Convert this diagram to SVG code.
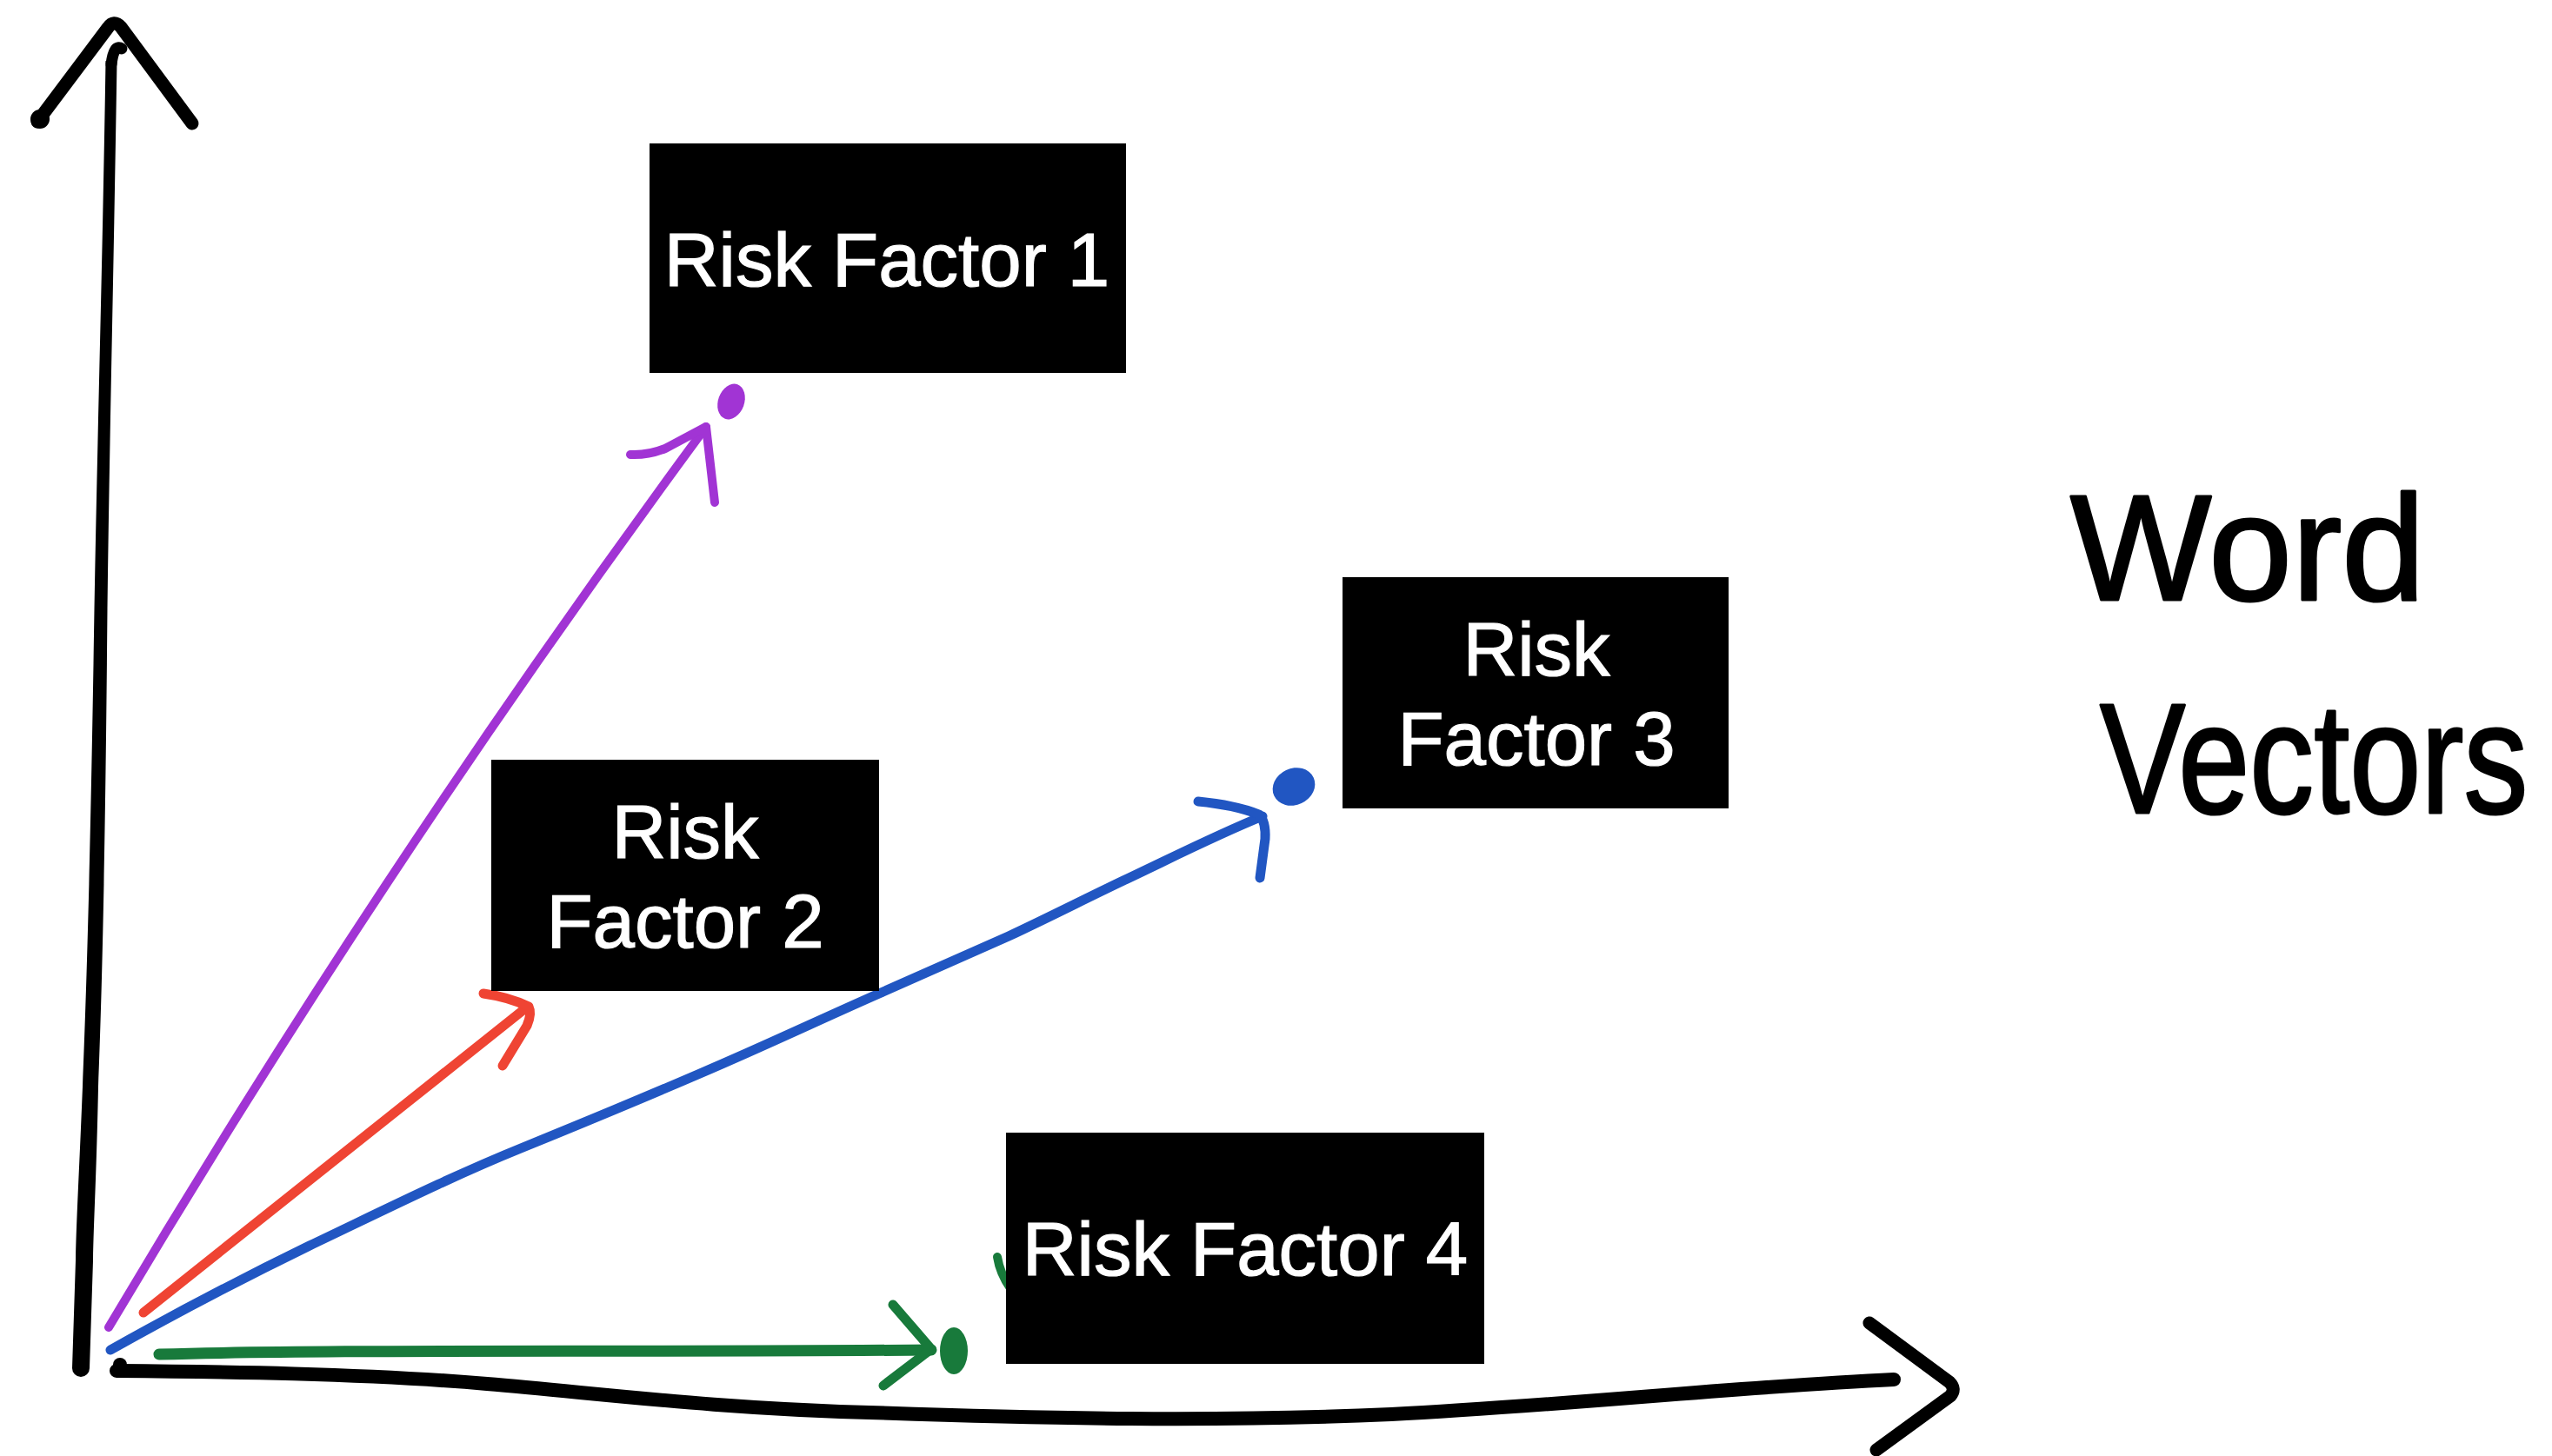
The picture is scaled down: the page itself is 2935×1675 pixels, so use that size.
<svg xmlns="http://www.w3.org/2000/svg" width="2935" height="1675" viewBox="0 0 2935 1675">
  <style>
    .ink { fill: none; stroke-linecap: round; stroke-linejoin: round; }
    .axis { stroke: #000; }
    .purple { stroke: #a134d4; }
    .red { stroke: #ef4433; }
    .blue { stroke: #2156c2; }
    .green { stroke: #187a3b; }
    .box { fill: #000; }
    .label { fill: #fff; stroke: #fff; stroke-width: 1.2px; font-family: "Liberation Sans", Arial, Helvetica, sans-serif; font-size: 87px; text-anchor: middle; }
    .hand { fill: #000; stroke: #000; stroke-width: 3px; stroke-linejoin: round; font-family: "Liberation Sans", Arial, sans-serif; }
  </style>

  <rect width="2935" height="1675" fill="#fff"/>

  <!-- hand-drawn axes -->
  <g id="axes">
    <!-- vertical axis: a tapered marker stroke, wider toward the bottom -->
    <path class="ink axis" stroke-width="13" d="M140,56 Q131,50 128,74"/>
    <path fill="#000" d="M121.5,70 C118,300 112,500 108.5,700 C104,1000 99,1150 95,1250 C91,1350 88,1400 87,1450 L83,1574 A10,10 0 0 0 103,1574 L107,1450 C108,1400 111,1350 113,1250 C117,1150 121,1000 123.5,700 C126,500 131,300 134.5,70 Z"/>
    <path class="ink axis" stroke-width="15" d="M43,140 L124,32 Q131,22 139,31 L221,142"/>
    <circle cx="46" cy="137" r="11" fill="#000"/>
    <!-- horizontal axis -->
    <path class="ink axis" stroke-width="16" d="M134,1577 C250,1578 420,1580 560,1592 C700,1604 820,1620 1000,1625 C1200,1632 1400,1636 1600,1627 C1800,1617 2000,1595 2178,1587"/>
    <circle cx="138" cy="1570" r="8" fill="#000"/>
    <path class="ink axis" stroke-width="15" d="M2150,1522 L2242,1590 Q2250,1598 2243,1606 L2158,1668"/>
  </g>

  <!-- vectors from the origin -->
  <g id="connectors">
    <!-- Risk Factor 1 -->
    <path class="ink purple" stroke-width="10" d="M125,1527 Q443,991 812,491"/>
    <path class="ink purple" stroke-width="10" d="M725,523 Q745,524 765,516 L812,491 L822,578"/>
    <ellipse cx="841" cy="462" rx="15" ry="21" transform="rotate(20 841 462)" fill="#a134d4"/>

    <!-- Risk Factor 2 -->
    <path class="ink red" stroke-width="11" d="M165,1510 L603,1161"/>
    <path class="ink red" stroke-width="11" d="M556,1143 Q585,1147 608,1158 Q612,1166 606,1180 L578,1226"/>

    <!-- Risk Factor 3 -->
    <path class="ink blue" stroke-width="11" d="M127,1553 C200,1512 280,1470 356,1433 C440,1393 520,1353 599,1321 C680,1288 740,1263 805,1235 C880,1203 945,1172 1011,1143 C1060,1121 1110,1099 1160,1077 C1205,1056 1250,1033 1292,1013 C1345,988 1400,960 1452,939"/>
    <path class="ink blue" stroke-width="11" d="M1378,922 Q1420,926 1448,937 Q1456,945 1455,965 L1449,1010"/>
    <ellipse cx="1488" cy="905" rx="25" ry="21" transform="rotate(-25 1488 905)" fill="#2156c2"/>

    <!-- Risk Factor 4 -->
    <path class="ink green" stroke-width="13" d="M183,1558 C400,1552 700,1556 1071,1553"/>
    <path class="ink green" stroke-width="11" d="M1027,1501 L1071,1552 L1016,1594"/>
    <ellipse cx="1097" cy="1554" rx="16" ry="27" fill="#187a3b"/>
    <path class="ink green" stroke-width="10" d="M1147,1446 Q1150,1465 1162,1482"/>
  </g>

  <!-- labelled points -->
  <g id="risk-factor-1">
    <rect class="box" x="747" y="165" width="548" height="264"/>
    <text class="label" x="1020" y="329">Risk Factor 1</text>
  </g>
  <g id="risk-factor-2">
    <rect class="box" x="565" y="874" width="446" height="266"/>
    <text class="label" x="788" y="987">Risk</text>
    <text class="label" x="788" y="1090">Factor 2</text>
  </g>
  <g id="risk-factor-3">
    <rect class="box" x="1544" y="664" width="444" height="266"/>
    <text class="label" x="1767" y="777">Risk</text>
    <text class="label" x="1767" y="880">Factor 3</text>
  </g>
  <g id="risk-factor-4">
    <rect class="box" x="1157" y="1303" width="550" height="266"/>
    <text class="label" x="1432" y="1467">Risk Factor 4</text>
  </g>

  <!-- title -->
  <g id="title">
    <text class="hand" x="2381" y="690" font-size="172">Word</text>
    <text class="hand" transform="translate(2415 935) scale(0.82 1)" x="0" y="0" font-size="180">Vectors</text>
  </g>
</svg>
